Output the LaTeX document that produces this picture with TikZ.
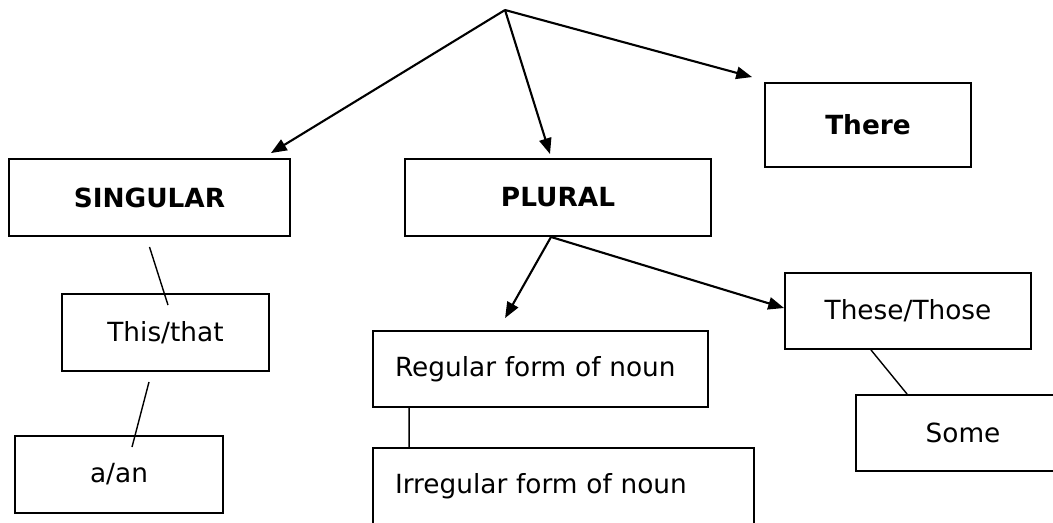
\documentclass[tikz,border=0pt]{standalone}
\usepackage{fontspec}
\setmainfont{DejaVu Sans}
\usepackage{tikz}
\usetikzlibrary{arrows.meta,positioning}

\begin{document}
\begin{tikzpicture}[x=0.02cm, y=-0.02cm, >={Triangle[length=9pt,width=7pt]}, every node/.style={align=center, font=\fontsize{15}{18}\selectfont}]

\useasboundingbox (0,0) rectangle (1053,522);

% Top point
\coordinate (apex) at (505,10);

% Main nodes
\node (sing) [draw, line width=1.1pt, minimum width=5.62cm, minimum height=1.54cm] at (149.5,197.5) {\textbf{SINGULAR}};
\node (plural) [draw, line width=1.1pt, minimum width=6.12cm, minimum height=1.54cm] at (558,197.5) {\textbf{PLURAL}};
\node (there) [draw, line width=1.1pt, minimum width=4.12cm, minimum height=1.68cm] at (868,125) {\textbf{There}};

% Singular side
\node (this) [draw, line width=1.1pt, minimum width=4.14cm, minimum height=1.54cm] at (165.5,332.5) {This/that};
\node (aan) [draw, line width=1.1pt, minimum width=4.16cm, minimum height=1.54cm] at (119,474.5) {a/an};

% Plural side
\node (regular) [draw, line width=1.1pt, text width=5.82cm, inner xsep=0.44cm, align=left, minimum height=1.52cm] at (540.5,369) {Regular form of noun};
\node (irregular) [draw, line width=1.1pt, text width=6.74cm, inner xsep=0.44cm, align=left, minimum height=1.54cm] at (563.5,486.5) {Irregular form of noun};
\node (these) [draw, line width=1.1pt, minimum width=4.92cm, minimum height=1.52cm] at (908,311) {These/Those};
\node (some) [draw, line width=1.1pt, minimum width=4.28cm, minimum height=1.52cm] at (963,433) {Some};

% Arrows from the top
\draw[->, line width=1.2pt] (apex) -- ([shift={(-20,-5)}]sing.north east);
\draw[->, line width=1.2pt] (apex) -- ([shift={(-8,-4)}]plural.north);
\draw[->, line width=1.2pt] (apex) -- ([shift={(-12,-5)}]there.north west);

% Arrows from PLURAL
\draw[->, line width=1.2pt] ([shift={(-7,0)}]plural.south) -- ([shift={(133,-12)}]regular.north west);
\draw[->, line width=1.2pt] ([shift={(-7,0)}]plural.south) -- ([shift={(0,-3)}]these.west);

% Plain links
\draw[line width=0.8pt] ([shift={(0,10)}]sing.south) -- ([shift={(2.5,12)}]this.north);
\draw[line width=0.8pt] ([shift={(-16.5,10)}]this.south) -- ([shift={(13,12)}]aan.north);
\draw[line width=0.8pt] ([shift={(37,0)}]regular.south west) -- ([shift={(37,0)}]irregular.north west);
\draw[line width=0.8pt] ([shift={(-37,0)}]these.south) -- ([shift={(52,0)}]some.north west);

\end{tikzpicture}
\end{document}
